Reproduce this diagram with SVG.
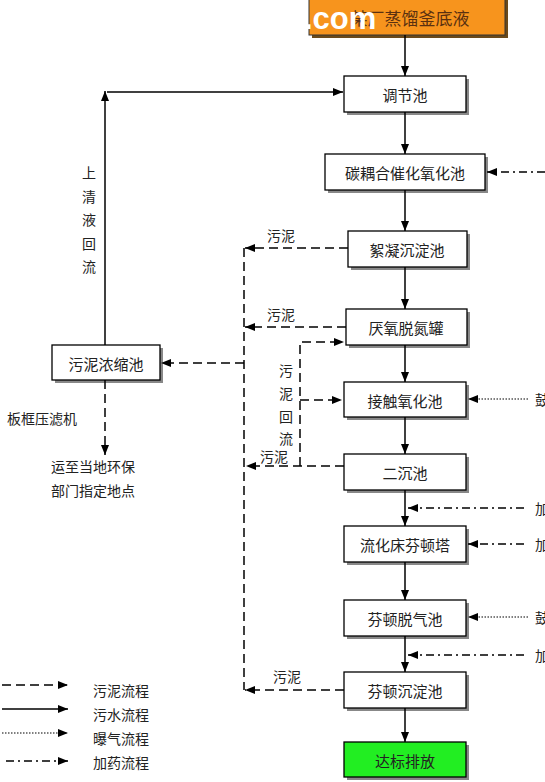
<svg xmlns="http://www.w3.org/2000/svg" width="545" height="782" viewBox="0 0 545 782">
<style>
.box{fill:#fff;stroke:#000;stroke-width:1.3}
.sh{fill:#888}
.t{font-family:"Noto Sans CJK SC","Noto Sans",sans-serif;font-size:15px;fill:#222;text-anchor:middle;dominant-baseline:central}
.lt{font-family:"Noto Sans CJK SC","Noto Sans",sans-serif;font-size:14px;fill:#222;dominant-baseline:central}
.solid{stroke:#000;stroke-width:1.5;fill:none}
.dash{stroke:#000;stroke-width:1.5;fill:none;stroke-dasharray:9 5}
.dot{stroke:#000;stroke-width:1.2;fill:none;stroke-dasharray:1.5 1.5}
.dd{stroke:#000;stroke-width:1.3;fill:none;stroke-dasharray:8 4 2 4}
</style>
<defs>
<marker id="ah" viewBox="0 0 10 8" refX="10" refY="4" markerWidth="10" markerHeight="8" markerUnits="userSpaceOnUse" orient="auto">
<path d="M0,0 L10,4 L0,8 Z" fill="#000"/>
</marker>
</defs>
<rect width="545" height="782" fill="#fff"/>

<g id="src">
<rect x="312" y="-2" width="196" height="40" style="fill:#6b4a1a"/>
<rect x="309" y="-5" width="196" height="40" fill="#F7941D" stroke="#333" stroke-width="1"/>
<text class="t" x="410" y="17" style="font-size:17px;fill:#5a3010">某厂蒸馏釜底液</text>
<text x="304" y="29" style="font-family:'Liberation Sans',sans-serif;font-weight:bold;font-size:31px;fill:#fff">.com</text>
</g>

<g id="n1"><rect class="sh" x="347" y="79" width="122" height="36"/><rect class="box" x="344" y="76" width="122" height="36"/><text class="t" x="405" y="94">调节池</text></g>
<g id="n2"><rect class="sh" x="328" y="157" width="160" height="36"/><rect class="box" x="325" y="154" width="160" height="36"/><text class="t" x="405" y="172">碳耦合催化氧化池</text></g>
<g id="n3"><rect class="sh" x="351" y="234" width="119" height="36"/><rect class="box" x="348" y="231" width="119" height="36"/><text class="t" x="407" y="249">絮凝沉淀池</text></g>
<g id="n4"><rect class="sh" x="349" y="312" width="121" height="36"/><rect class="box" x="346" y="309" width="121" height="36"/><text class="t" x="406" y="327">厌氧脱氮罐</text></g>
<g id="n5"><rect class="sh" x="347" y="385" width="122" height="35"/><rect class="box" x="344" y="382" width="122" height="35"/><text class="t" x="405" y="400">接触氧化池</text></g>
<g id="n6"><rect class="sh" x="347" y="457" width="122" height="36"/><rect class="box" x="344" y="454" width="122" height="36"/><text class="t" x="405" y="472">二沉池</text></g>
<g id="n7"><rect class="sh" x="347" y="529" width="122" height="36"/><rect class="box" x="344" y="526" width="122" height="36"/><text class="t" x="405" y="544">流化床芬顿塔</text></g>
<g id="n8"><rect class="sh" x="347" y="603" width="122" height="36"/><rect class="box" x="344" y="600" width="122" height="36"/><text class="t" x="405" y="618">芬顿脱气池</text></g>
<g id="n9"><rect class="sh" x="347" y="675" width="122" height="36"/><rect class="box" x="344" y="672" width="122" height="36"/><text class="t" x="405" y="690">芬顿沉淀池</text></g>
<g id="n10"><rect class="sh" x="347" y="745" width="122" height="35"/><rect x="344" y="742" width="122" height="35" fill="#22EE22" stroke="#000" stroke-width="1.3"/><text class="t" x="405" y="760">达标排放</text></g>
<g id="n11"><rect class="sh" x="55" y="348" width="108" height="35"/><rect class="box" x="52" y="345" width="108" height="35"/><text class="t" x="106" y="363">污泥浓缩池</text></g>

<g id="connectors">
<line class="solid" x1="405" y1="35" x2="405" y2="76" marker-end="url(#ah)"/>
<line class="solid" x1="405" y1="112" x2="405" y2="154" marker-end="url(#ah)"/>
<line class="solid" x1="405" y1="190" x2="405" y2="231" marker-end="url(#ah)"/>
<line class="solid" x1="405" y1="267" x2="405" y2="309" marker-end="url(#ah)"/>
<line class="solid" x1="405" y1="345" x2="405" y2="382" marker-end="url(#ah)"/>
<line class="solid" x1="405" y1="417" x2="405" y2="454" marker-end="url(#ah)"/>
<line class="solid" x1="405" y1="490" x2="405" y2="526" marker-end="url(#ah)"/>
<line class="solid" x1="405" y1="562" x2="405" y2="600" marker-end="url(#ah)"/>
<line class="solid" x1="405" y1="636" x2="405" y2="672" marker-end="url(#ah)"/>
<line class="solid" x1="405" y1="708" x2="405" y2="742" marker-end="url(#ah)"/>
<line class="solid" x1="105" y1="345" x2="105" y2="91" marker-end="url(#ah)"/>
<line class="solid" x1="107" y1="92" x2="343" y2="92" marker-end="url(#ah)"/>
<line class="dash" x1="244" y1="248" x2="244" y2="690"/>
<line class="dash" x1="348" y1="248" x2="245" y2="248" marker-end="url(#ah)"/>
<line class="dash" x1="346" y1="327" x2="245" y2="327" marker-end="url(#ah)"/>
<line class="dash" x1="344" y1="466" x2="246" y2="466" marker-end="url(#ah)"/>
<line class="dash" x1="344" y1="690" x2="245" y2="690" marker-end="url(#ah)"/>
<line class="dash" x1="244" y1="363" x2="161" y2="363" marker-end="url(#ah)"/>
<line class="dash" x1="105" y1="380" x2="105" y2="455" marker-end="url(#ah)"/>
<path class="dash" d="M300,466 L300,342 L344,342" marker-end="url(#ah)"/>
<line class="dash" x1="300" y1="400" x2="342" y2="400" marker-end="url(#ah)"/>
<line class="dd" x1="545" y1="172" x2="487" y2="172" marker-end="url(#ah)"/>
<line class="dot" x1="528" y1="399" x2="468" y2="399" marker-end="url(#ah)"/>
<line class="dd" x1="524" y1="508" x2="408" y2="508" marker-end="url(#ah)"/>
<line class="dd" x1="524" y1="544" x2="468" y2="544" marker-end="url(#ah)"/>
<line class="dot" x1="528" y1="617" x2="468" y2="617" marker-end="url(#ah)"/>
<line class="dd" x1="524" y1="655" x2="408" y2="655" marker-end="url(#ah)"/>
<line class="dash" x1="2" y1="685" x2="68" y2="685" marker-end="url(#ah)"/>
<line class="solid" x1="2" y1="709" x2="68" y2="709" marker-end="url(#ah)"/>
<line class="dot" x1="2" y1="733" x2="68" y2="733" marker-end="url(#ah)"/>
<line class="dd" x1="6" y1="761" x2="68" y2="761" marker-end="url(#ah)"/>
</g>

<g id="labels">
<text class="lt" x="267" y="235">污泥</text>
<text class="lt" x="267" y="314">污泥</text>
<text class="lt" x="260" y="456">污泥</text>
<text class="lt" x="273" y="676">污泥</text>
<g class="lt" style="text-anchor:middle">
<text x="89" y="172">上</text><text x="89" y="196">清</text><text x="89" y="219">液</text><text x="89" y="243">回</text><text x="89" y="266">流</text>
<text x="286" y="370">污</text><text x="286" y="393">泥</text><text x="286" y="416">回</text><text x="286" y="438">流</text>
</g>
<text class="lt" x="7" y="418">板框压滤机</text>
<text class="lt" x="51" y="466">运至当地环保</text>
<text class="lt" x="51" y="490">部门指定地点</text>
<text class="lt" x="535" y="399">鼓</text>
<text class="lt" x="535" y="508">加</text>
<text class="lt" x="535" y="544">加</text>
<text class="lt" x="535" y="617">鼓</text>
<text class="lt" x="535" y="655">加</text>
<text class="lt" x="93" y="690">污泥流程</text>
<text class="lt" x="93" y="714">污水流程</text>
<text class="lt" x="93" y="738">曝气流程</text>
<text class="lt" x="93" y="762">加药流程</text>
</g>
</svg>
